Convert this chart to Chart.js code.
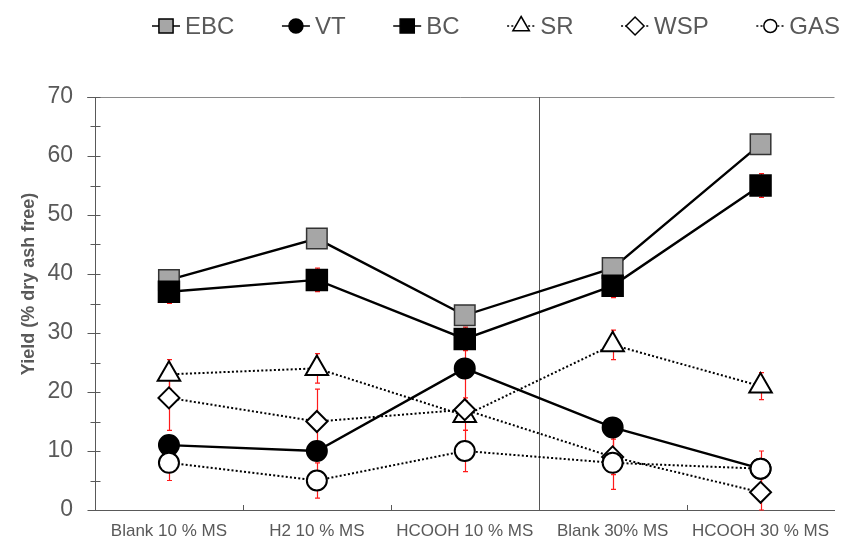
<!DOCTYPE html>
<html>
<head>
<meta charset="utf-8">
<script src="https://cdn.jsdelivr.net/npm/chart.js@4"></script>
<style>
  body { margin: 0; background: #fff; }
  #wrap { width: 851px; height: 540px; position: relative; }
</style>
</head>
<body>
<div id="wrap"><canvas id="yieldChart"></canvas></div>
<script>
// categories and series (yield, % dry ash free)
const categories = ['Blank 10 % MS', 'H2 10 % MS', 'HCOOH 10 % MS', 'Blank 30% MS', 'HCOOH 30 % MS'];
const ebc = [39, 46, 33, 41, 62];
const vt  = [11, 10, 24, 14, 7];
const bc  = [37, 39, 29, 38, 55];
const sr  = [23, 24, 16, 28, 21];
const wsp = [19, 15, 17, 9, 3];
const gas = [8, 5, 10, 8, 7];

// error bars (+/-)
const ebcErr = [0, 0, 0, 0, 0];
const vtErr  = [1, 1, 6, 1.5, 1];
const bcErr  = [2, 2, 2, 2, 2];
const srErr  = [2.5, 2.5, 2.5, 2.5, 2.3];
const wspErr = [5.5, 5.5, 2, 3, 3];
const gasErr = [3, 3, 3.5, 4.5, 3];

const yMin = 0, yMax = 70, yStep = 10;
const splitAfter = 2; // vertical line between 10 % and 30 % groups

const axisColor = '#595959';
const textColor = '#595959';

function drawMarker(ctx, style, r, x, y, fill, stroke, bw) {
    ctx.fillStyle = fill;
    ctx.strokeStyle = stroke;
    ctx.lineWidth = bw;
    ctx.setLineDash([]);
    Chart.helpers.drawPoint(ctx, { pointStyle: style, radius: r, rotation: 0, borderWidth: bw }, x, y);
}

const decorations = {
    id: 'decorations',
    beforeDatasetsDraw(chart) {
        const ctx = chart.ctx;
        const a = chart.chartArea;
        const x = chart.scales.x, y = chart.scales.y;
        ctx.save();
        // line along the top (70)
        ctx.strokeStyle = '#8a8a8a';
        ctx.lineWidth = 1;
        ctx.beginPath();
        ctx.moveTo(a.left - 8, Math.round(y.getPixelForValue(yMax)) + 0.5);
        ctx.lineTo(a.right, Math.round(y.getPixelForValue(yMax)) + 0.5);
        ctx.stroke();
        // separator
        const sx = Math.round((x.getPixelForValue(splitAfter) + x.getPixelForValue(splitAfter + 1)) / 2) + 0.5;
        ctx.strokeStyle = '#555';
        ctx.beginPath();
        ctx.moveTo(sx, a.top);
        ctx.lineTo(sx, a.bottom);
        ctx.stroke();
        // error bars
        ctx.strokeStyle = '#ff1a1a';
        ctx.lineWidth = 1.2;
        chart.data.datasets.forEach(ds => {
            ds.errors.forEach((e, i) => {
                if (!e) return;
                const px = Math.round(x.getPixelForValue(i)) + 0.5;
                const t = y.getPixelForValue(Math.min(yMax, ds.data[i] + e));
                const b = y.getPixelForValue(Math.max(yMin, ds.data[i] - e));
                ctx.beginPath();
                ctx.moveTo(px, t); ctx.lineTo(px, b);
                ctx.moveTo(px - 2.5, t); ctx.lineTo(px + 2.5, t);
                ctx.moveTo(px - 2.5, b); ctx.lineTo(px + 2.5, b);
                ctx.stroke();
            });
        });
        ctx.restore();
    },
    afterDraw(chart) {
        const ctx = chart.ctx;
        const a = chart.chartArea;
        const x = chart.scales.x, y = chart.scales.y;
        ctx.save();
        ctx.strokeStyle = axisColor;
        ctx.lineWidth = 1;
        const ax = Math.round(a.left) + 0.5;
        // y ticks, crossing the axis
        ctx.beginPath();
        for (let v = yMin; v <= yMax; v += yStep) {
            const py = Math.round(y.getPixelForValue(v)) + 0.5;
            ctx.moveTo(ax - 8, py); ctx.lineTo(ax + 5, py);
            if (v + yStep / 2 < yMax) {
                const pm = Math.round(y.getPixelForValue(v + yStep / 2)) + 0.5;
                ctx.moveTo(ax - 5, pm); ctx.lineTo(ax + 5, pm);
            }
        }
        // x ticks between categories
        const by = Math.round(a.bottom);
        for (let i = 0; i < categories.length - 1; i++) {
            const px = Math.round((x.getPixelForValue(i) + x.getPixelForValue(i + 1)) / 2) + 0.5;
            ctx.moveTo(px, by); ctx.lineTo(px, by - 5);
        }
        ctx.stroke();

        // y axis title
        ctx.save();
        ctx.translate(29, 284);
        ctx.rotate(-Math.PI / 2);
        ctx.fillStyle = textColor;
        ctx.font = 'bold 18px "Liberation Sans", Arial, sans-serif';
        ctx.textAlign = 'center';
        ctx.textBaseline = 'middle';
        ctx.fillText('Yield (% dry ash free)', 0, 0);
        ctx.restore();

        // legend: line + marker + label
        const ly = 26, symW = 28, symGap = 5, startX = 152, endX = 840;
        ctx.font = '24px "Liberation Sans", Arial, sans-serif';
        ctx.textBaseline = 'middle';
        ctx.textAlign = 'left';
        const dsets = chart.data.datasets;
        const widths = dsets.map(d => ctx.measureText(d.label).width);
        const used = widths.reduce((s, w) => s + w + symW + symGap, 0);
        const gap = (endX - startX - used) / (dsets.length - 1);
        let cx = startX;
        dsets.forEach((d, i) => {
            ctx.strokeStyle = '#000';
            ctx.lineWidth = 1.5;
            ctx.setLineDash(d.borderDash || []);
            ctx.beginPath();
            ctx.moveTo(cx, ly); ctx.lineTo(cx + symW, ly);
            ctx.stroke();
            drawMarker(ctx, d.pointStyle, d.legendRadius, cx + symW / 2, ly, d.pointBackgroundColor, '#000', 1.5);
            ctx.fillStyle = textColor;
            ctx.fillText(d.label, cx + symW + symGap, ly + 1);
            cx += symW + symGap + widths[i] + gap;
        });
        ctx.restore();
    }
};

function series(label, data, errors, style, radius, legendRadius, fill, dotted, order) {
    return {
        label: label,
        data: data,
        errors: errors,
        order: order,
        borderColor: '#000',
        borderWidth: dotted ? 2 : 2.4,
        borderDash: dotted ? [2, 2.2] : [],
        pointStyle: style,
        pointRadius: radius,
        pointHoverRadius: radius,
        legendRadius: legendRadius,
        pointBackgroundColor: fill,
        pointBorderColor: label === 'EBC' ? '#333' : '#000',
        pointBorderWidth: label === 'EBC' ? 1.5 : 2,
        tension: 0,
        fill: false
    };
}

const canvas = document.getElementById('yieldChart');
new Chart(canvas.getContext('2d'), {
    type: 'line',
    data: {
        labels: categories,
        datasets: [
            series('EBC', ebc, ebcErr, 'rect', 14.5, 10, '#a6a6a6', false, 6),
            series('VT', vt, vtErr, 'circle', 10, 7, '#000', false, 5),
            series('BC', bc, bcErr, 'rect', 14.5, 10, '#000', false, 4),
            series('SR', sr, srErr, 'triangle', 13, 9.5, '#fff', true, 3),
            series('WSP', wsp, wspErr, 'rectRot', 10.5, 9, '#fff', true, 2),
            series('GAS', gas, gasErr, 'circle', 10, 6.5, '#fff', true, 1)
        ]
    },
    options: {
        responsive: true,
        maintainAspectRatio: false,
        animation: false,
        layout: { padding: { top: 97, right: 0, left: 0, bottom: 0 } },
        plugins: {
            legend: { display: false },
            tooltip: { enabled: false }
        },
        scales: {
            x: {
                offset: true,
                grid: { display: false, drawTicks: false },
                border: { display: true, color: axisColor, width: 1 },
                ticks: {
                    color: textColor,
                    padding: 11,
                    maxRotation: 0,
                    autoSkip: false,
                    font: { family: '"Liberation Sans", Arial, sans-serif', size: 17 }
                },
                afterFit(scale) {
                    scale.height = 30;
                    scale.paddingLeft = 0;
                    scale.paddingRight = 0;
                }
            },
            y: {
                min: yMin,
                max: yMax,
                grid: { display: false, drawTicks: false },
                border: { display: true, color: axisColor, width: 1 },
                ticks: {
                    stepSize: yStep,
                    color: textColor,
                    padding: 22,
                    font: { family: '"Liberation Sans", Arial, sans-serif', size: 23 }
                },
                afterFit(scale) {
                    scale.width = 95;
                    scale.paddingTop = 0;
                    scale.paddingBottom = 0;
                }
            }
        }
    },
    plugins: [decorations]
});
</script>
</body>
</html>
